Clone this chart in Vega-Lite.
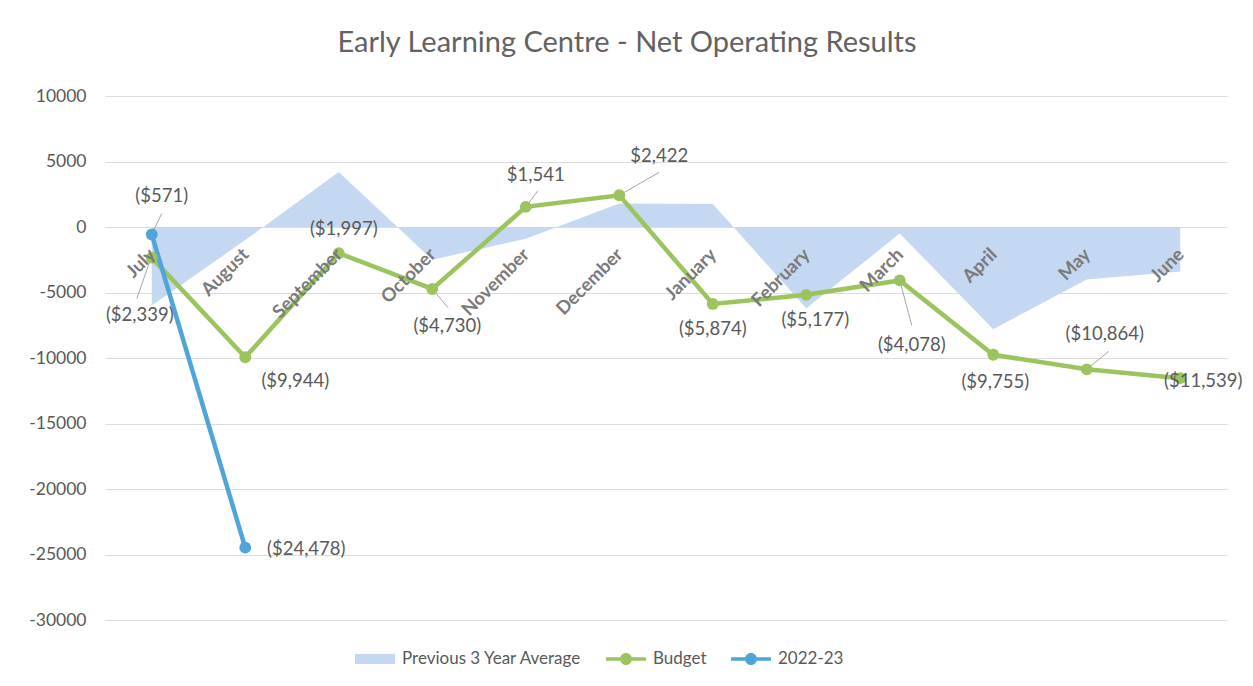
{
  "$schema": "https://vega.github.io/schema/vega-lite/v6.json",
  "autosize": "none",
  "width": 1122,
  "height": 524,
  "padding": {"left": 105, "top": 96, "right": 26, "bottom": 66},
  "background": "white",
  "title": {
    "text": "Early Learning Centre - Net Operating Results",
    "font": "Lato",
    "fontSize": 29,
    "fontWeight": "normal",
    "color": "#626262",
    "anchor": "middle",
    "frame": "group",
    "dx": -39,
    "offset": 29
  },
  "data": {
    "values": [
      {"month": "July", "series": "Previous 3 Year Average", "value": -6000},
      {"month": "August", "series": "Previous 3 Year Average", "value": -1000},
      {"month": "September", "series": "Previous 3 Year Average", "value": 4200},
      {"month": "October", "series": "Previous 3 Year Average", "value": -2500},
      {"month": "November", "series": "Previous 3 Year Average", "value": -900},
      {"month": "December", "series": "Previous 3 Year Average", "value": 1800},
      {"month": "January", "series": "Previous 3 Year Average", "value": 1750},
      {"month": "February", "series": "Previous 3 Year Average", "value": -6200},
      {"month": "March", "series": "Previous 3 Year Average", "value": -500},
      {"month": "April", "series": "Previous 3 Year Average", "value": -7800},
      {"month": "May", "series": "Previous 3 Year Average", "value": -4000},
      {"month": "June", "series": "Previous 3 Year Average", "value": -3400},
      {"month": "July", "series": "Budget", "value": -2339},
      {"month": "August", "series": "Budget", "value": -9944},
      {"month": "September", "series": "Budget", "value": -1997},
      {"month": "October", "series": "Budget", "value": -4730},
      {"month": "November", "series": "Budget", "value": 1541},
      {"month": "December", "series": "Budget", "value": 2422},
      {"month": "January", "series": "Budget", "value": -5874},
      {"month": "February", "series": "Budget", "value": -5177},
      {"month": "March", "series": "Budget", "value": -4078},
      {"month": "April", "series": "Budget", "value": -9755},
      {"month": "May", "series": "Budget", "value": -10864},
      {"month": "June", "series": "Budget", "value": -11539},
      {"month": "July", "series": "2022-23", "value": -571},
      {"month": "August", "series": "2022-23", "value": -24478}
    ]
  },
  "encoding": {
    "x": {
      "field": "month",
      "type": "ordinal",
      "sort": ["July","August","September","October","November","December","January","February","March","April","May","June"],
      "scale": {"type": "point", "padding": 0.5},
      "axis": {
        "title": null,
        "orient": "bottom",
        "offset": -393,
        "domain": false,
        "ticks": false,
        "grid": false,
        "labelAngle": -45,
        "labelAlign": "right",
        "labelBaseline": "middle",
        "labelPadding": 24,
        "labelFont": "Lato",
        "labelFontSize": 18.5,
        "labelFontWeight": "bold",
        "labelColor": "#7a7a7a",
        "zindex": 1
      }
    },
    "y": {
      "field": "value",
      "type": "quantitative",
      "scale": {"domain": [-30000, 10000], "nice": false},
      "axis": {
        "title": null,
        "values": [-30000,-25000,-20000,-15000,-10000,-5000,0,5000,10000],
        "format": "d",
        "labelExpr": "replace(datum.label, '−', '-')",
        "domain": false,
        "ticks": false,
        "grid": true,
        "gridColor": "#dcdcdc",
        "gridWidth": 1,
        "labelPadding": 19,
        "labelFont": "Lato",
        "labelFontSize": 17.5,
        "labelColor": "#595959",
        "zindex": 0
      }
    }
  },
  "layer": [
    {
      "transform": [{"filter": "datum.series === 'Previous 3 Year Average'"}],
      "mark": {"type": "area", "opacity": 1},
      "encoding": {
        "color": {
          "field": "series",
          "type": "nominal",
          "scale": {"domain": ["Previous 3 Year Average","Budget","2022-23"], "range": ["#c5d8f1","#9bc45e","#4fa4da"]},
          "legend": {
            "title": null,
            "orient": "none",
            "direction": "horizontal",
            "legendX": 250,
            "legendY": 543,
            "labelFont": "Lato",
            "labelFontSize": 17,
            "labelColor": "#595959",
            "labelLimit": 0,
            "labelOffset": 7,
            "columnPadding": 24,
            "symbolSize": 1600,
            "symbolOpacity": 1,
            "symbolStrokeWidth": 0,
            "encode": {
              "symbols": {
                "update": {
                  "shape": {"signal": "datum.value === 'Previous 3 Year Average' ? 'M-1,-0.25H1V0.25H-1Z' : 'M-1,-0.09H1V0.09H-1Z M0.3,0A0.3,0.3 0 1,1 -0.3,0A0.3,0.3 0 1,1 0.3,0Z'"},
                  "fill": {"scale": "color", "field": "value"},
                  "stroke": {"value": "transparent"},
                  "opacity": {"value": 1}
                }
              }
            }
          }
        }
      }
    },
    {"transform": [{"filter": "datum.series === '2022-23' && datum.month === 'July'"}], "mark": {"type": "rule", "color": "#a6a6a6", "strokeWidth": 1, "x2Offset": 10, "y2Offset": -21}, "encoding": {"x2": {"field": "month"}, "y2": {"field": "value"}}},
    {"transform": [{"filter": "datum.series === 'Budget' && datum.month === 'July'"}], "mark": {"type": "rule", "color": "#a6a6a6", "strokeWidth": 1, "xOffset": -2, "yOffset": 4, "x2Offset": -15, "y2Offset": 41}, "encoding": {"x2": {"field": "month"}, "y2": {"field": "value"}}},
    {"transform": [{"filter": "datum.series === 'Budget' && datum.month === 'October'"}], "mark": {"type": "rule", "color": "#a6a6a6", "strokeWidth": 1, "x2Offset": 16, "y2Offset": 19}, "encoding": {"x2": {"field": "month"}, "y2": {"field": "value"}}},
    {"transform": [{"filter": "datum.series === 'Budget' && datum.month === 'November'"}], "mark": {"type": "rule", "color": "#a6a6a6", "strokeWidth": 1, "x2Offset": 12, "y2Offset": -16}, "encoding": {"x2": {"field": "month"}, "y2": {"field": "value"}}},
    {"transform": [{"filter": "datum.series === 'Budget' && datum.month === 'December'"}], "mark": {"type": "rule", "color": "#a6a6a6", "strokeWidth": 1, "x2Offset": 40, "y2Offset": -23}, "encoding": {"x2": {"field": "month"}, "y2": {"field": "value"}}},
    {"transform": [{"filter": "datum.series === 'Budget' && datum.month === 'March'"}], "mark": {"type": "rule", "color": "#a6a6a6", "strokeWidth": 1, "x2Offset": 12, "y2Offset": 45}, "encoding": {"x2": {"field": "month"}, "y2": {"field": "value"}}},
    {"transform": [{"filter": "datum.series === 'Budget' && datum.month === 'May'"}], "mark": {"type": "rule", "color": "#a6a6a6", "strokeWidth": 1, "x2Offset": 22, "y2Offset": -18}, "encoding": {"x2": {"field": "month"}, "y2": {"field": "value"}}},
    {
      "transform": [{"filter": "datum.series !== 'Previous 3 Year Average'"}],
      "mark": {"type": "line", "strokeWidth": 4.5, "point": {"filled": true, "size": 140, "opacity": 1}},
      "encoding": {
        "color": {"field": "series", "type": "nominal"}
      }
    },
    {"transform": [{"filter": "datum.series === 'Budget' && datum.month === 'July'"}], "mark": {"type": "text", "font": "Lato", "fontSize": 18.5, "fill": "#595959", "dx": -12, "dy": 57}, "encoding": {"text": {"field": "value", "format": "($,.0f"}}},
    {"transform": [{"filter": "datum.series === 'Budget' && datum.month === 'August'"}], "mark": {"type": "text", "font": "Lato", "fontSize": 18.5, "fill": "#595959", "dx": 50, "dy": 24}, "encoding": {"text": {"field": "value", "format": "($,.0f"}}},
    {"transform": [{"filter": "datum.series === 'Budget' && datum.month === 'September'"}], "mark": {"type": "text", "font": "Lato", "fontSize": 18.5, "fill": "#595959", "dx": 5, "dy": -24}, "encoding": {"text": {"field": "value", "format": "($,.0f"}}},
    {"transform": [{"filter": "datum.series === 'Budget' && datum.month === 'October'"}], "mark": {"type": "text", "font": "Lato", "fontSize": 18.5, "fill": "#595959", "dx": 15, "dy": 37}, "encoding": {"text": {"field": "value", "format": "($,.0f"}}},
    {"transform": [{"filter": "datum.series === 'Budget' && datum.month === 'November'"}], "mark": {"type": "text", "font": "Lato", "fontSize": 18.5, "fill": "#595959", "dx": 10, "dy": -32}, "encoding": {"text": {"field": "value", "format": "($,.0f"}}},
    {"transform": [{"filter": "datum.series === 'Budget' && datum.month === 'December'"}], "mark": {"type": "text", "font": "Lato", "fontSize": 18.5, "fill": "#595959", "dx": 40, "dy": -39}, "encoding": {"text": {"field": "value", "format": "($,.0f"}}},
    {"transform": [{"filter": "datum.series === 'Budget' && datum.month === 'January'"}], "mark": {"type": "text", "font": "Lato", "fontSize": 18.5, "fill": "#595959", "dx": 0, "dy": 25}, "encoding": {"text": {"field": "value", "format": "($,.0f"}}},
    {"transform": [{"filter": "datum.series === 'Budget' && datum.month === 'February'"}], "mark": {"type": "text", "font": "Lato", "fontSize": 18.5, "fill": "#595959", "dx": 9, "dy": 25}, "encoding": {"text": {"field": "value", "format": "($,.0f"}}},
    {"transform": [{"filter": "datum.series === 'Budget' && datum.month === 'March'"}], "mark": {"type": "text", "font": "Lato", "fontSize": 18.5, "fill": "#595959", "dx": 12, "dy": 65}, "encoding": {"text": {"field": "value", "format": "($,.0f"}}},
    {"transform": [{"filter": "datum.series === 'Budget' && datum.month === 'April'"}], "mark": {"type": "text", "font": "Lato", "fontSize": 18.5, "fill": "#595959", "dx": 2, "dy": 27}, "encoding": {"text": {"field": "value", "format": "($,.0f"}}},
    {"transform": [{"filter": "datum.series === 'Budget' && datum.month === 'May'"}], "mark": {"type": "text", "font": "Lato", "fontSize": 18.5, "fill": "#595959", "dx": 18, "dy": -35}, "encoding": {"text": {"field": "value", "format": "($,.0f"}}},
    {"transform": [{"filter": "datum.series === 'Budget' && datum.month === 'June'"}], "mark": {"type": "text", "font": "Lato", "fontSize": 18.5, "fill": "#595959", "dx": 23, "dy": 3}, "encoding": {"text": {"field": "value", "format": "($,.0f"}}},
    {"transform": [{"filter": "datum.series === '2022-23' && datum.month === 'July'"}], "mark": {"type": "text", "font": "Lato", "fontSize": 18.5, "fill": "#595959", "dx": 10, "dy": -38}, "encoding": {"text": {"field": "value", "format": "($,.0f"}}},
    {"transform": [{"filter": "datum.series === '2022-23' && datum.month === 'August'"}], "mark": {"type": "text", "font": "Lato", "fontSize": 18.5, "fill": "#595959", "dx": 61, "dy": 1}, "encoding": {"text": {"field": "value", "format": "($,.0f"}}}
  ],
  "config": {
    "view": {"stroke": null}
  }
}
